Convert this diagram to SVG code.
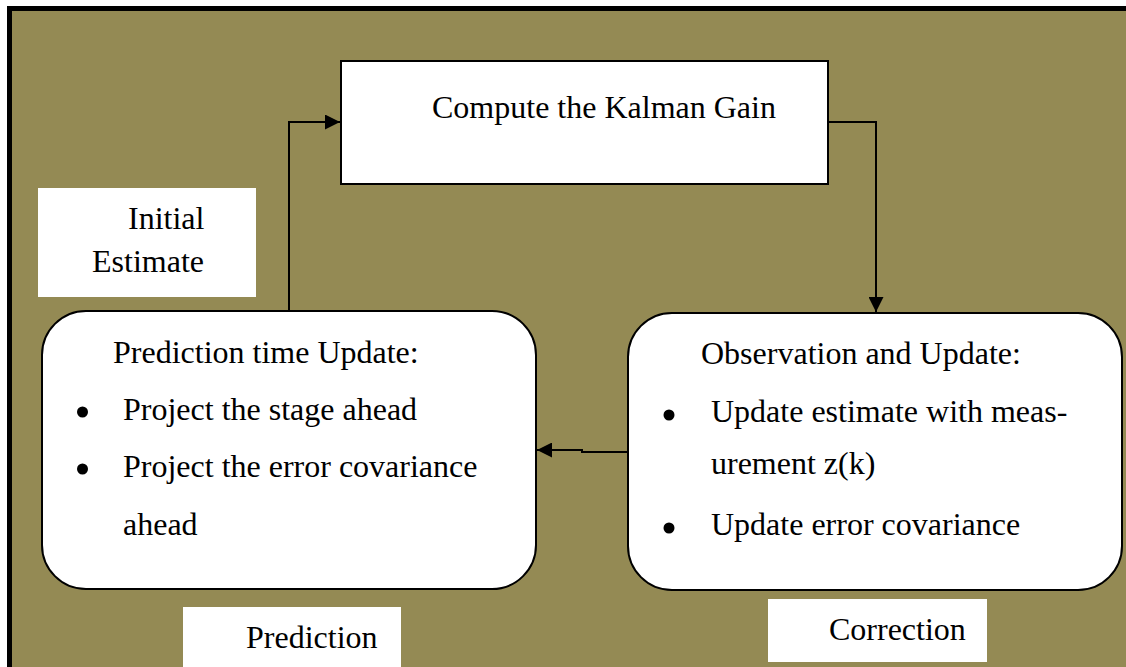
<svg xmlns="http://www.w3.org/2000/svg" width="1126" height="667" viewBox="0 0 1126 667">
  <style>
    .t { font-family: "Liberation Serif", "Times New Roman", serif; font-size: 32px; fill: #000; }
    .box { fill: #fff; stroke: #000; stroke-width: 2; }
    .lbl { fill: #fff; stroke: none; }
    .conn { fill: none; stroke: #000; stroke-width: 2; }
  </style>
  <defs>
    <marker id="arr" markerUnits="userSpaceOnUse" markerWidth="15" markerHeight="15" refX="15" refY="7.5" orient="auto">
      <path d="M0,0 L15,7.5 L0,15 Z" fill="#000"/>
    </marker>
  </defs>
  <rect x="0" y="0" width="1126" height="667" fill="#fff"/>
  <rect x="7" y="6" width="1130" height="670" fill="#000"/>
  <rect x="12" y="11" width="1125" height="665" fill="#948A54"/>

  <g id="connectors">
    <path class="conn" d="M289,311 L289,122 L340,122" marker-end="url(#arr)"/>
    <path class="conn" d="M828,122 L876,122 L876,312" marker-end="url(#arr)"/>
    <path class="conn" d="M628,452 L582,452 L582,450 L537,450" marker-end="url(#arr)"/>
  </g>

  <g id="kalman-gain">
    <rect class="box" x="341" y="61" width="487" height="123"/>
    <text class="t" x="432" y="118">Compute the Kalman Gain</text>
  </g>

  <g id="initial-estimate">
    <rect class="lbl" x="38" y="188" width="218" height="109"/>
    <text class="t" x="128" y="229">Initial</text>
    <text class="t" x="92" y="272">Estimate</text>
  </g>

  <g id="prediction-box">
    <rect class="box" x="42" y="311" width="494" height="278" rx="44" ry="44"/>
    <text class="t" x="113" y="363">Prediction time Update:</text>
    <circle cx="82.5" cy="412" r="5.5" fill="#000"/>
    <text class="t" x="123" y="420">Project the stage ahead</text>
    <circle cx="82.5" cy="469" r="5.5" fill="#000"/>
    <text class="t" x="123" y="477">Project the error covariance</text>
    <text class="t" x="123" y="535">ahead</text>
  </g>

  <g id="observation-box">
    <rect class="box" x="628" y="313" width="494" height="277" rx="44" ry="44"/>
    <text class="t" x="701" y="364">Observation and Update:</text>
    <circle cx="669" cy="415" r="5.5" fill="#000"/>
    <text class="t" x="711" y="422">Update estimate with meas-</text>
    <text class="t" x="711" y="474">urement z(k)</text>
    <circle cx="669" cy="528" r="5.5" fill="#000"/>
    <text class="t" x="711" y="535">Update error covariance</text>
  </g>

  <g id="prediction-label">
    <rect class="lbl" x="183" y="607" width="218" height="70"/>
    <text class="t" x="246" y="648">Prediction</text>
  </g>

  <g id="correction-label">
    <rect class="lbl" x="768" y="599" width="219" height="63"/>
    <text class="t" x="829" y="640">Correction</text>
  </g>
</svg>
